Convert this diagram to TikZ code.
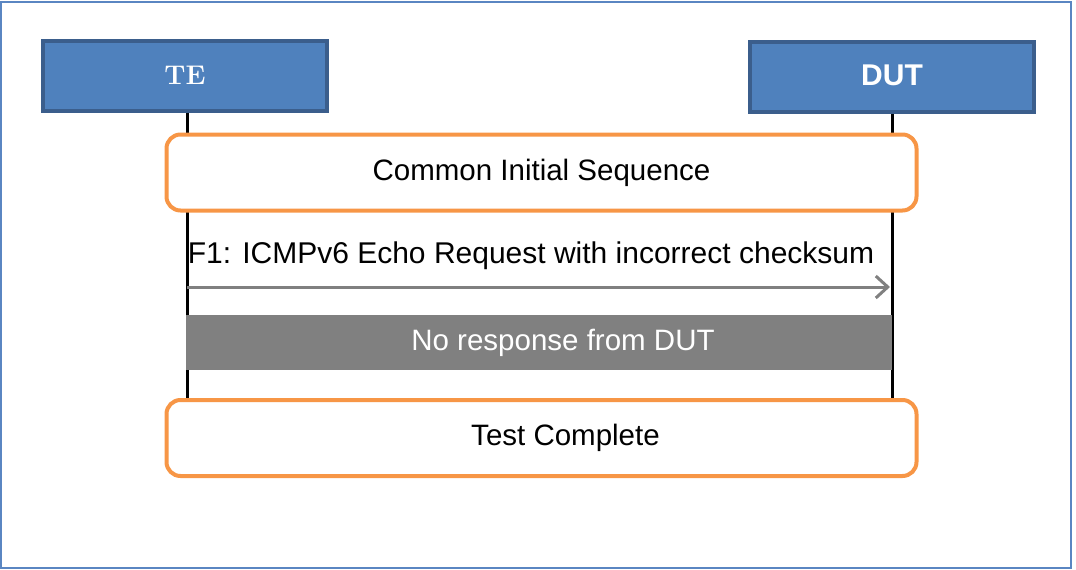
\documentclass[tikz,border=0pt]{standalone}
\usepackage{fontspec}
\setsansfont{Liberation Sans}
\usetikzlibrary{arrows.meta}
\definecolor{frameblue}{HTML}{5A86C2}
\definecolor{boxfill}{HTML}{4F81BD}
\definecolor{boxline}{HTML}{3B5E8C}
\definecolor{orng}{HTML}{F79646}
\definecolor{grayarr}{HTML}{808080}
\tikzset{
  actor/.style={draw=boxline, fill=boxfill, line width=4pt, minimum width=284pt, minimum height=70pt, text=white, inner sep=0pt},
  phase/.style={draw=orng, fill=white, line width=4pt, rounded corners=14pt, minimum width=750pt, minimum height=76pt, inner sep=0pt, font=\sffamily\fontsize{29.5}{33}\selectfont},
  life/.style={line width=3pt, black},
  msg/.style={line width=3pt, grayarr, -{Straight Barb[length=12pt, width=22pt, line width=3pt]}},
  msglabel/.style={font=\sffamily\fontsize{30}{34}\selectfont, inner sep=0pt},
  note/.style={fill=grayarr, minimum width=706pt, minimum height=55pt, inner sep=0pt, text=white, font=\sffamily\fontsize{29.5}{33}\selectfont}
}
\begin{document}
\begin{tikzpicture}[x=1pt,y=-1pt]
\useasboundingbox (0,0) rectangle (1076,570);
\draw[frameblue, line width=2pt] (1,2) rectangle (1071,568);
% actors
\node[actor, font=\rmfamily\bfseries\fontsize{27}{30}\selectfont] (te) at (185,75.5) {TE};
\node[actor, font=\sffamily\bfseries\fontsize{30}{34}\selectfont] (dut) at (892,77) {\raisebox{4pt}{DUT}};
% lifeline ends
\coordinate (teend) at (187,400);
\coordinate (dutend) at (892,400);
\draw[life] (te.south -| teend) -- (teend);
\draw[life] (dut.south -| dutend) -- (dutend);
% phases
\node[phase] (cis) at (541.5,172.5) {Common Initial Sequence};
\node[phase] (tc) at (541.5,438) {\hspace*{48pt}Test Complete};
% message
\coordinate (ms) at (187,287);
\coordinate (me) at (890,287);
\draw[msg] (ms) -- (me);
\node[msglabel, anchor=south] (lbl) at (531,270) {F1: ICMPv6 Echo Request with incorrect checksum};
% note
\node[note] (nr) at (539,342.5) {\hspace*{48pt}\raisebox{-2pt}{No response from DUT}};
\end{tikzpicture}
\end{document}
